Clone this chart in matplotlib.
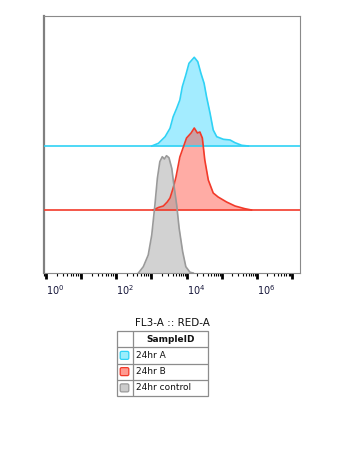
import numpy as np
import matplotlib
matplotlib.use('Agg')
import matplotlib.pyplot as plt
from matplotlib.patches import FancyBboxPatch, Rectangle
from matplotlib.ticker import FixedLocator, NullFormatter

plt.rcParams['font.family'] = ['DejaVu Sans']
plt.rcParams['mathtext.fontset'] = 'dejavusans'

# histogram traces: x in log10 decades, y in counts (px-ish)
samples = ['24hr A', '24hr B', '24hr control']

a_log = [3.01, 3.20, 3.39, 3.53, 3.62, 3.72, 3.81, 3.88, 3.98, 4.07, 4.22,
         4.32, 4.41, 4.50, 4.57, 4.67, 4.76, 4.86, 5.05, 5.24, 5.38, 5.57, 5.76]
a_cnt = [0, 2.7, 9.3, 17.7, 29.3, 37.7, 46, 59.3, 71, 82.7, 88.7,
         84.3, 72.7, 62.7, 49.3, 32.7, 16, 9.3, 6.7, 6, 3.3, 0.7, 0]

b_log = [3.05, 3.20, 3.34, 3.45, 3.53, 3.62, 3.70, 3.81, 3.91, 4.00, 4.13, 4.22,
         4.31, 4.38, 4.45, 4.52, 4.62, 4.76, 4.90, 5.14, 5.38, 5.66, 5.85]
b_cnt = [0, 2.5, 4, 8, 12, 22, 33, 53, 63, 72, 77, 82,
         77, 78, 72, 50, 30, 17, 13, 8, 4, 1.3, 0]

c_log = [2.63, 2.77, 2.91, 3.01, 3.10, 3.17, 3.24, 3.31, 3.37, 3.43, 3.50,
         3.58, 3.64, 3.72, 3.79, 3.89, 3.98, 4.10, 4.19]
c_cnt = [0, 6.3, 18, 38, 68, 94.7, 111.3, 116.3, 114, 117.3, 115.3,
         104.7, 88, 68, 44.7, 21.3, 6.3, 0.7, 0]

decades = list(range(0, 8))
tick_labels = ['$10^{%d}$' % d if d % 2 == 0 else '' for d in decades]

# style / layout
line_cols = ['#2fd2f5', '#f23a2a', '#9a9a9a']
fill_cols = ['#33d6ff', '#ff3a2a', '#9c9c9c']
fill_alpha = [0.45, 0.42, 0.45]
swatch_face = ['#9beefc', '#ff9a90', '#cccccc']
offsets = [127, 63, 0]

W, H = 364, 454
fig = plt.figure(figsize=(W / 100, H / 100), dpi=100)
ax = fig.add_axes([44 / W, (H - 273) / H, 256 / W, 257 / H])

xmin, xmax = 10 ** -0.057, 10 ** 7.23
ax.set_xscale('log')
ax.set_xlim(xmin, xmax)
ax.set_ylim(0, 257)

traces = [(a_log, a_cnt), (b_log, b_cnt), (c_log, c_cnt)]
for i, (lg, cnt) in enumerate(traces):
    x = 10 ** np.array(lg)
    y = np.array(cnt) + offsets[i]
    ax.fill_between(x, offsets[i], y, color=fill_cols[i], alpha=fill_alpha[i], lw=0, zorder=2 + i)
    ax.plot(x, y, color=line_cols[i], lw=1.2, zorder=5 + i)
    if offsets[i] > 0:
        ax.axhline(offsets[i], color=line_cols[i], lw=1.2, zorder=5 + i)

for side in ['top', 'right', 'bottom']:
    ax.spines[side].set_color('#8a8a8a')
    ax.spines[side].set_linewidth(0.8)
ax.spines['left'].set_color('#808080')
ax.spines['left'].set_linewidth(1.6)

ax.set_yticks([])
ax.xaxis.set_major_locator(FixedLocator([10.0 ** d for d in decades]))
ax.set_xticklabels(tick_labels)
minors = [m * 10.0 ** d for d in range(-1, 8) for m in range(2, 10)]
ax.xaxis.set_minor_locator(FixedLocator([v for v in minors if xmin < v < xmax]))
ax.xaxis.set_minor_formatter(NullFormatter())
ax.tick_params(axis='x', which='major', direction='out', length=4.5, width=2.0,
               color='black', labelsize=7, labelcolor='#16163a', pad=3)
ax.tick_params(axis='x', which='minor', direction='out', length=2.4, width=0.8, color='black')
for lab in ax.get_xticklabels():
    lab.set_horizontalalignment('left')

ax.set_xlabel('FL3-A :: RED-A', fontsize=7.5, color='#111111', labelpad=15)

# legend table
lx0, lx1, ly0, ly1 = 117, 208, 331, 396
lg = fig.add_axes([lx0 / W, (H - ly1) / H, (lx1 - lx0) / W, (ly1 - ly0) / H])
lg.set_xlim(0, lx1 - lx0)
lg.set_ylim(ly1 - ly0, 0)
lg.axis('off')
tw, th = lx1 - lx0, ly1 - ly0
rh = th / 4
col = 15.7
gc = '#8c8c8c'
lg.add_patch(Rectangle((0, 0), tw, th, fill=False, ec=gc, lw=0.9, clip_on=False))
lg.plot([col, col], [0, th], color=gc, lw=0.9)
for r in range(1, 4):
    lg.plot([0, tw], [r * rh, r * rh], color=gc, lw=0.9)
lg.text((col + tw) / 2, rh / 2, 'SampleID', ha='center', va='center',
        fontsize=6.5, fontweight='bold', color='#111111')
for i, name in enumerate(samples):
    yc = (i + 1.5) * rh
    lg.add_patch(FancyBboxPatch((3.2, yc - 4.0), 8.6, 8.0,
                                boxstyle='round,pad=0,rounding_size=1.5',
                                fc=swatch_face[i], ec=line_cols[i], lw=0.9))
    lg.text(col + 3.5, yc, name, ha='left', va='center', fontsize=6.5, color='#111111')

fig.savefig('out.png', dpi=100)
